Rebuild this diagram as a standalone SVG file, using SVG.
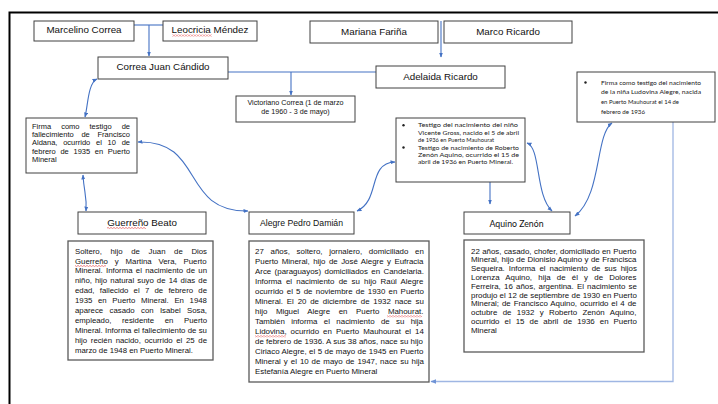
<svg xmlns="http://www.w3.org/2000/svg" width="718" height="404" viewBox="0 0 718 404">
<style>
.bg{fill:#ffffff}
.nb{fill:#ffffff;stroke:#404040;stroke-width:1}
.db{fill:#ffffff;stroke:#595959;stroke-width:1.3}
.lbl{font-family:"Liberation Sans",Arial,sans-serif;font-size:9.8px;fill:#111;text-anchor:middle}
.sm{font-family:"Liberation Sans",Arial,sans-serif;font-size:7.2px;fill:#111;text-anchor:middle}
.ds{font-family:"Liberation Sans",Arial,sans-serif;font-size:7.9px;fill:#111}
.dg{font-family:"Liberation Sans",Arial,sans-serif;font-size:7.8px;fill:#111}
.fa{font-family:"Liberation Sans",Arial,sans-serif;font-size:7.5px;fill:#111}
.cb{font-family:Lato,"Open Sans",sans-serif;font-size:6.4px;fill:#222}
.con{fill:none;stroke:#4472c4;stroke-width:1.1}
.lt{fill:none;stroke:#9fb6e3;stroke-width:1.3}
</style>
<defs>
<marker id="ah" viewBox="0 0 10 10" refX="9" refY="5" markerWidth="5" markerHeight="5" orient="auto-start-reverse" markerUnits="userSpaceOnUse">
<path d="M0,1 L10,5 L0,9 z" fill="#4472c4"/>
</marker>
<marker id="ahl" viewBox="0 0 10 10" refX="9" refY="5" markerWidth="6" markerHeight="6" orient="auto" markerUnits="userSpaceOnUse">
<path d="M0,1 L10,5 L0,9 z" fill="#6f93d6"/>
</marker>
<pattern id="sq" width="3" height="2" patternUnits="userSpaceOnUse">
<path d="M0 1.6 L1.5 0.4 L3 1.6" fill="none" stroke="#e03030" stroke-width="0.6"/>
</pattern>
</defs>
<rect class="bg" x="0" y="0" width="718" height="404"/>
<path d="M718 12.5 H9.5 V404" fill="none" stroke="#000" stroke-width="2"/>

<g id="connectors">
<path class="con" d="M134 25 H163"/>
<path class="con" d="M149 25 V56" marker-end="url(#ah)"/>
<path class="con" d="M441 21 V57" marker-end="url(#ah)"/>
<path class="con" d="M228 72 H376"/>
<path class="con" d="M291 72 V95" marker-end="url(#ah)"/>
<path class="con" d="M97 79 C88 83, 88 105, 85 117" marker-start="url(#ah)" marker-end="url(#ah)"/>
<path class="con" d="M83 175 C84 193, 87 195, 86 211" marker-start="url(#ah)" marker-end="url(#ah)"/>
<path class="con" d="M138 142 C205 140, 180 212, 248 211" marker-start="url(#ah)" marker-end="url(#ah)"/>
<path class="con" d="M357 211 C381 200, 367 163, 395 162" marker-start="url(#ah)" marker-end="url(#ah)"/>
<path class="con" d="M490 182 V204" marker-end="url(#ah)"/>
<path class="con" d="M527 143 C541 148, 535 195, 552 211" marker-start="url(#ah)" marker-end="url(#ah)"/>
<path class="con" d="M612 123 C595 135, 602 195, 575 216" marker-start="url(#ah)" marker-end="url(#ah)"/>
<path class="lt" d="M673 122 V381.5 H431" marker-end="url(#ahl)"/>
</g>

<g id="marcelino">
<rect class="nb" x="34" y="21" width="100" height="20"/>
<text class="lbl" x="84" y="33">Marcelino Correa</text>
</g>
<g id="leocricia">
<rect class="nb" x="163" y="21" width="94" height="20"/>
<text class="lbl" x="210" y="33">Leocricia Méndez</text>
<rect x="172" y="34.5" width="40" height="2" fill="url(#sq)"/>
</g>
<g id="mariana">
<rect class="nb" x="310" y="21" width="128" height="22"/>
<text class="lbl" x="374" y="34.5">Mariana Fariña</text>
</g>
<g id="marco">
<rect class="nb" x="444" y="21" width="128" height="22"/>
<text class="lbl" x="508" y="34.5">Marco Ricardo</text>
</g>
<g id="correa">
<rect class="nb" x="98" y="57" width="130" height="22"/>
<text class="lbl" x="163" y="70">Correa Juan Cándido</text>
</g>
<g id="adelaida">
<rect class="nb" x="376" y="66" width="129" height="22"/>
<text class="lbl" x="440.5" y="79.5">Adelaida Ricardo</text>
</g>
<g id="victoriano">
<rect class="nb" x="236" y="96" width="119" height="26"/>
<text class="sm" x="295.5" y="104.8">Victoriano Correa (1 de marzo</text>
<text class="sm" x="295.5" y="113.5">de 1960 - 3 de mayo)</text>
</g>
<g id="firma-aldana">
<rect class="nb" x="26" y="118" width="111" height="55"/>
<text class="fa" x="32" y="128.6" word-spacing="7.93">Firma como testigo de</text>
<text class="fa" x="32" y="137" word-spacing="5.65">fallecimiento de Francisco</text>
<text class="fa" x="32" y="145.4" word-spacing="3.65">Aldana, ocurrido el 10 de</text>
<text class="fa" x="32" y="153.8" word-spacing="2.6">febrero de 1935 en Puerto</text>
<text class="fa" x="32" y="162.2">Mineral</text>
</g>
<g id="guerreno">
<rect class="nb" x="78" y="212" width="128" height="22"/>
<text class="lbl" x="142" y="225.5">Guerreño Beato</text>
<rect x="107" y="227" width="39" height="2" fill="url(#sq)"/>
</g>
<g id="alegre">
<rect class="nb" x="249" y="212" width="105" height="22"/>
<text class="lbl" x="301.5" y="226" style="font-size:8.7px">Alegre Pedro Damián</text>
</g>
<g id="testigo">
<rect class="nb" x="396" y="118" width="129" height="64"/>
<circle cx="403.5" cy="125.3" r="1.2" fill="#222"/>
<circle cx="403.5" cy="147.5" r="1.2" fill="#222"/>
<text class="cb" x="418" y="127.4" textLength="100" lengthAdjust="spacingAndGlyphs">Testigo del nacimiento del niño</text>
<text class="cb" x="418" y="134.8" textLength="101" lengthAdjust="spacingAndGlyphs">Vicente Gross, nacido el 5 de abril</text>
<text class="cb" x="418" y="142.2" textLength="76" lengthAdjust="spacingAndGlyphs">de 1936 en Puerto Mauhourat</text>
<text class="cb" x="418" y="149.6" textLength="101" lengthAdjust="spacingAndGlyphs">Testigo de nacimiento de Roberto</text>
<text class="cb" x="418" y="157" textLength="101" lengthAdjust="spacingAndGlyphs">Zenón Aquino, ocurrido el 15 de</text>
<text class="cb" x="418" y="164.4" textLength="95" lengthAdjust="spacingAndGlyphs">abril de 1936 en Puerto Mineral.</text>
</g>
<g id="aquino">
<rect class="nb" x="464" y="212" width="106" height="22"/>
<text x="516.5" y="226.5" text-anchor="middle" style="font-family:Lato,'Open Sans',sans-serif;font-size:9.6px;fill:#111" textLength="54" lengthAdjust="spacingAndGlyphs">Aquino Zenón</text>
</g>
<g id="firma-ludovina">
<rect class="nb" x="577" y="72" width="138" height="50"/>
<circle cx="585.5" cy="82.5" r="1.2" fill="#222"/>
<text class="cb" x="601" y="84.8" textLength="100" lengthAdjust="spacingAndGlyphs">Firma como testigo del nacimiento</text>
<text class="cb" x="601" y="94.4" textLength="100" lengthAdjust="spacingAndGlyphs">de la niña Ludovina Alegre, nacida</text>
<text class="cb" x="601" y="104" textLength="78" lengthAdjust="spacingAndGlyphs">en Puerto Mauhourat el 14 de</text>
<text class="cb" x="601" y="113.6" textLength="44" lengthAdjust="spacingAndGlyphs">febrero de 1936</text>
</g>
<g id="guerreno-desc">
<rect class="db" x="68" y="241" width="145" height="119"/>
<text class="dg" x="75" y="253.6" word-spacing="6.46">Soltero, hijo de Juan de Dios</text>
<text class="dg" x="75" y="263.5" word-spacing="4.72">Guerreño y Martina Vera, Puerto</text>
<rect x="75" y="265" width="31" height="2" fill="url(#sq)"/>
<text class="dg" x="75" y="273.4" word-spacing="1.18">Mineral. Informa el nacimiento de un</text>
<text class="dg" x="75" y="283.3" word-spacing="0.96">niño, hijo natural suyo de 14 días de</text>
<text class="dg" x="75" y="293.2" word-spacing="3.07">edad, fallecido el 7 de febrero de</text>
<text class="dg" x="75" y="303.1" word-spacing="3.5">1935 en Puerto Mineral. En 1948</text>
<text class="dg" x="75" y="313" word-spacing="4.17">aparece casado con Isabel Sosa,</text>
<text class="dg" x="75" y="322.9" word-spacing="8.45">empleado, residente en Puerto</text>
<text class="dg" x="75" y="332.8" word-spacing="0.13">Mineral. Informa el fallecimiento de su</text>
<text class="dg" x="75" y="342.7" word-spacing="1.48">hijo recién nacido, ocurrido el 25 de</text>
<text class="dg" x="75" y="352.6">marzo de 1948 en Puerto Mineral.</text>
</g>
<g id="alegre-desc">
<rect class="db" x="249" y="241" width="180" height="141"/>
<text class="ds" x="255" y="253.8" word-spacing="4.56">27 años, soltero, jornalero, domiciliado en</text>
<text class="ds" x="255" y="263.8" word-spacing="1.25">Puerto Mineral, hijo de José Alegre y Eufracia</text>
<text class="ds" x="255" y="273.8" word-spacing="1.2">Arce (paraguayos) domiciliados en Candelaria.</text>
<text class="ds" x="255" y="283.8" word-spacing="2.0">Informa el nacimiento de su hijo Raúl Alegre</text>
<text class="ds" x="255" y="293.8" word-spacing="1.04">ocurrido el 5 de noviembre de 1930 en Puerto</text>
<text class="ds" x="255" y="303.8" word-spacing="1.59">Mineral. El 20 de diciembre de 1932 nace su</text>
<text class="ds" x="255" y="313.8" word-spacing="6.4">hijo Miguel Alegre en Puerto Mahourat.</text>
<rect x="387" y="315.3" width="35" height="2" fill="url(#sq)"/>
<text class="ds" x="255" y="323.8" word-spacing="4.17">También informa el nacimiento de su hija</text>
<text class="ds" x="255" y="333.8" word-spacing="1.82">Lidovina, ocurrido en Puerto Mauhourat el 14</text>
<rect x="255" y="335.3" width="31" height="2" fill="url(#sq)"/>
<text class="ds" x="255" y="343.8" word-spacing="0.12">de febrero de 1936. A sus 38 años, nace su hijo</text>
<text class="ds" x="255" y="353.8" word-spacing="0.29">Ciriaco Alegre, el 5 de mayo de 1945 en Puerto</text>
<text class="ds" x="255" y="363.8" word-spacing="0.78">Mineral y el 10 de mayo de 1947, nace su hija</text>
<text class="ds" x="255" y="373.8">Estefanía Alegre en Puerto Mineral</text>
</g>
<g id="aquino-desc">
<rect class="db" x="464" y="240" width="180" height="112"/>
<text class="ds" x="471" y="253.6" word-spacing="0.22">22 años, casado, chofer, domiciliado en Puerto</text>
<text class="ds" x="471" y="262.4" word-spacing="0.26">Mineral, hijo de Dionisio Aquino y de Francisca</text>
<text class="ds" x="471" y="271.2" word-spacing="1.77">Sequeira. Informa el nacimiento de sus hijos</text>
<text class="ds" x="471" y="280" word-spacing="4.02">Lorenza Aquino, hija de él y de Dolores</text>
<text class="ds" x="471" y="288.8" word-spacing="1.03">Ferreira, 16 años, argentina. El nacimiento se</text>
<text class="ds" x="471" y="297.6" word-spacing="0.11">produjo el 12 de septiembre de 1930 en Puerto</text>
<text class="ds" x="471" y="306.4" word-spacing="0.7">Mineral; de Francisco Aquino, ocurrido el 4 de</text>
<text class="ds" x="471" y="315.2" word-spacing="3.15">octubre de 1932 y Roberto Zenón Aquino,</text>
<text class="ds" x="471" y="324" word-spacing="2.85">ocurrido el 15 de abril de 1936 en Puerto</text>
<text class="ds" x="471" y="332.8">Mineral</text>
</g>
</svg>
